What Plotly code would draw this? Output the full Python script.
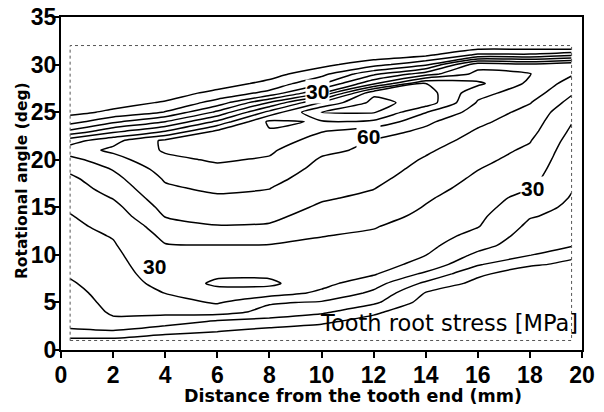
import plotly.graph_objects as go

# grid of the stress map: distance (mm) x rotational angle (deg)
x_mm = [0.35, 2, 4, 6, 8, 10, 12, 14, 16, 18, 19.6]
y_deg = [1, 2, 3, 4, 5, 6, 7, 8, 9, 10, 11, 12, 13, 14, 15, 16,
         17, 18, 19, 20, 21, 22, 23, 24, 25, 26, 27, 28, 29, 30, 31, 32]

# tooth root stress (MPa) read column by column, bottom (1 deg) to top (32 deg)
s_x0 = [-3, 9.5, 11.5, 13, 15, 17, 19, 21, 22, 23, 25, 27, 28.5, 29.5, 31, 33,
        35.5, 38, 42, 47, 55, 46, 22, 6, -3, -5, -5, -5, -5, -5, -5, -5]
s_x2 = [-3, 9.5, 18, 21.5, 23, 24, 25, 26, 27, 28, 29.2, 30.5, 32, 34, 37, 40.5,
        44, 47, 50.5, 56, 62, 57, 37, 18, 2, -4, -5, -5, -5, -5, -5, -5]
s_x4 = [-5, 3, 16, 22, 26, 30.2, 33, 35, 36.5, 38, 39.5, 42, 45, 50.2, 53, 56,
        58.5, 61, 64, 68, 71, 72, 50, 30, 10.5, 1, -5, -5, -5, -5, -5, -5]
s_x6 = [-6, 0.5, 8.5, 24, 31, 36, 42, 38, 37.5, 38.5, 39.8, 45, 49.5, 53, 56, 58.5,
        62, 65, 68, 71, 74, 77, 72, 52, 32, 14, 3, -5, -6, -6, -6, -6]
s_x8 = [-8, -3, 6, 17, 21, 35, 42, 38, 37, 38.5, 39.5, 45, 49, 52, 55, 58,
        60.2, 63, 66, 69, 71.5, 75, 79, 82, 63, 40.5, 13, 3, -4, -6, -6, -6]
s_x10 = [-12, -5, 2, 12, 19, 28, 33, 35, 36.5, 37.5, 38.5, 40.2, 43, 46, 48.5, 51.2,
         53, 55, 57, 59, 62, 66, 70.5, 79, 90.5, 71, 40, 19, 7, -3, -10, -10]
s_x12 = [-14, -9, -4, 2, 12, 18, 24, 31, 34, 36, 37.5, 38.8, 40.5, 43, 45.5, 48,
         50.3, 52.5, 54.5, 56.5, 58.2, 59.4, 64.5, 78, 91, 93, 88, 48, 28, 6, -6, -10]
s_x14 = [-20, -16, -12, -8, -4, -0.5, 8, 18, 27, 30.2, 32.5, 34.5, 36.5, 38, 39.5, 41,
         43, 45, 47, 49, 51.5, 54.5, 58, 62, 70.5, 86, 85, 80.5, 45.5, 18, -2, -8]
s_x16 = [-25, -22, -18, -14, -10, -6, -3, 2, 11, 18, 23.5, 27, 30.5, 32, 34, 35.5,
         37, 38.5, 40.2, 42, 44, 46.5, 49, 52, 55.5, 59, 63, 72, 63, 56, 12, -8]
s_x18 = [-30, -27, -24, -20, -16, -12, -9, -6, 1.5, 10.5, 14, 16, 18, 20.5, 23, 26,
         30.5, 33, 35, 37, 38.5, 40.5, 43, 45, 47, 50.5, 55, 58, 60.5, 52, 12, -8]
s_x19 = [-32, -29, -26, -22, -18, -14, -10, -6, -2, 2, 11, 14, 16, 17.5, 18.5, 19.5,
         20.5, 21.5, 22.5, 23.5, 25, 26.5, 28.5, 30.5, 33, 37, 41, 46, 51, 57, 18, -12]

columns = [s_x0, s_x2, s_x4, s_x6, s_x8, s_x10, s_x12, s_x14, s_x16, s_x18, s_x19]
z_stress = [list(row) for row in zip(*columns)]

# contour labels placed like the original figure
label_text = ["30", "60", "30", "30"]
label_x = [9.85, 11.8, 18.1, 3.6]
label_y = [27.2, 22.4, 17.0, 8.8]

# measured area (dashed frame)
AREA_X = [0.35, 19.6]
AREA_Y = [1.0, 32.0]

TICK_FONT = dict(family="Liberation Sans", size=23, color="black", weight="bold")
XTITLE_FONT = dict(family="DejaVu Sans", size=17.5, color="black", weight="bold")
YTITLE_FONT = dict(family="DejaVu Sans", size=15.5, color="black", weight="bold")

fig = go.Figure(go.Contour(
    x=x_mm,
    y=y_deg,
    z=z_stress,
    contours=dict(start=0, end=90, size=10, coloring="lines"),
    colorscale=[[0, "black"], [1, "black"]],
    line=dict(width=1.5, smoothing=0.6),
    showscale=False,
    hoverinfo="skip",
))

fig.add_shape(
    type="rect", xref="x", yref="y",
    x0=AREA_X[0], x1=AREA_X[1], y0=AREA_Y[0], y1=AREA_Y[1],
    line=dict(color="#555", width=1, dash="dot"),
)

for t, lx, ly in zip(label_text, label_x, label_y):
    fig.add_annotation(
        x=lx, y=ly, text=t, showarrow=False,
        font=dict(family="Liberation Sans", size=21, color="black", weight="bold"),
        bgcolor="white", borderpad=0,
    )

fig.add_annotation(
    x=0.997, y=0.035, xref="paper", yref="paper",
    xanchor="right", yanchor="bottom",
    text="Tooth root stress [MPa]", showarrow=False,
    font=dict(family="DejaVu Sans", size=22.5, color="black"),
)

# axis titles as annotations so the plot frame stays where the original has it
fig.add_annotation(
    x=0.56, y=-0.137, xref="paper", yref="paper",
    xanchor="center", yanchor="middle",
    text="Distance from the tooth end (mm)", showarrow=False,
    font=XTITLE_FONT,
)
fig.add_annotation(
    x=-0.075, y=0.51, xref="paper", yref="paper",
    xanchor="center", yanchor="middle", textangle=-90,
    text="Rotational angle (deg)", showarrow=False,
    font=YTITLE_FONT,
)

fig.update_xaxes(
    range=[0, 20], dtick=2, tick0=0,
    ticks="outside", ticklen=6, tickwidth=1.5, tickcolor="black",
    showline=True, linecolor="black", linewidth=2, mirror=True,
    showgrid=False, zeroline=False, automargin=False,
    tickfont=TICK_FONT, ticklabelstandoff=-3, ticklabeloverflow="allow",
)
fig.update_yaxes(
    range=[0, 35], dtick=5, tick0=0,
    ticks="outside", ticklen=6, tickwidth=1.5, tickcolor="black",
    showline=True, linecolor="black", linewidth=2, mirror=True,
    showgrid=False, zeroline=False, automargin=False,
    tickfont=TICK_FONT, ticklabelstandoff=-8, ticklabeloverflow="allow",
)

# the page adds 8 px around the figure, so the frame is set 8 px up/left;
# a little top room keeps the "35" label inside the page
fig.update_layout(
    width=604, height=412,
    margin=dict(l=53, r=30, t=9, b=70),
    paper_bgcolor="white",
    plot_bgcolor="white",
    showlegend=False,
)

fig.write_html("out.html")
